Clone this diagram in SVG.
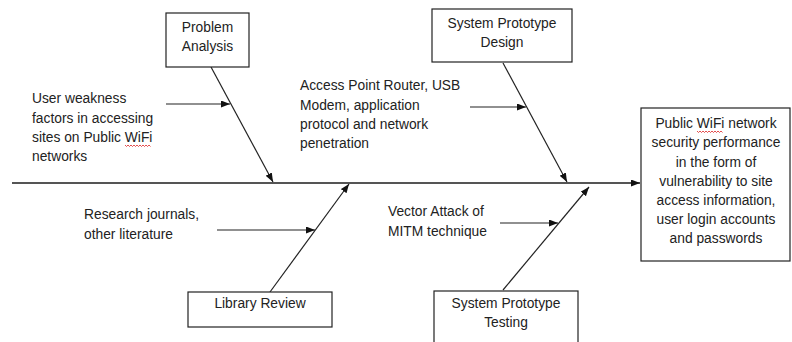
<svg xmlns="http://www.w3.org/2000/svg" width="792" height="342" viewBox="0 0 792 342">
<style>
.box{fill:#fff;stroke:#222;stroke-width:1.2}
.t{font-family:"Liberation Sans",Arial,sans-serif;font-size:13.8px;fill:#222}
.c{text-anchor:middle}
.ln{stroke:#222;stroke-width:1.2;fill:none}
.main{stroke:#555;stroke-width:1.8;fill:none}
.sq{stroke:#d22;stroke-width:0.8;fill:none}
</style>
<defs>
<marker id="ah" markerUnits="userSpaceOnUse" markerWidth="10" markerHeight="8" refX="9" refY="3.5" orient="auto">
<path d="M0,0 L9,3.5 L0,7 z" fill="#111"/>
</marker>
</defs>
<rect width="792" height="342" fill="#fff"/>
<g id="connectors">
<path class="main" d="M12,183 L640,183" marker-end="url(#ah)"/>
<path class="ln" d="M211,67 L273,182" marker-end="url(#ah)"/>
<path class="ln" d="M166,104 L230,104" marker-end="url(#ah)"/>
<path class="ln" d="M503,63 L567,182" marker-end="url(#ah)"/>
<path class="ln" d="M470,107 L526,107" marker-end="url(#ah)"/>
<path class="ln" d="M270,292 L349,184" marker-end="url(#ah)"/>
<path class="ln" d="M217,230 L315,230" marker-end="url(#ah)"/>
<path class="ln" d="M503,290 L589,187" marker-end="url(#ah)"/>
<path class="ln" d="M500,223 L558,223" marker-end="url(#ah)"/>
</g>
<g id="problem-analysis">
<rect class="box" x="166" y="13" width="83" height="54"/>
<text class="t c" x="207.5" y="32">Problem</text>
<text class="t c" x="207.5" y="51">Analysis</text>
</g>
<g id="system-prototype-design">
<rect class="box" x="432" y="9" width="140" height="53"/>
<text class="t c" x="502" y="27.5">System Prototype</text>
<text class="t c" x="502" y="47">Design</text>
</g>
<g id="library-review">
<rect class="box" x="188" y="292" width="144" height="35"/>
<text class="t c" x="260" y="308">Library Review</text>
</g>
<g id="system-prototype-testing">
<rect class="box" x="434" y="291" width="144" height="60"/>
<text class="t c" x="506" y="308">System Prototype</text>
<text class="t c" x="506" y="327">Testing</text>
</g>
<g id="result">
<rect class="box" x="641" y="108" width="149" height="153"/>
<text class="t c" x="716" y="128">Public WiFi network</text>
<text class="t c" x="716" y="147">security performance</text>
<text class="t c" x="716" y="167">in the form of</text>
<text class="t c" x="716" y="186">vulnerability to site</text>
<text class="t c" x="716" y="205">access information,</text>
<text class="t c" x="716" y="224">user login accounts</text>
<text class="t c" x="716" y="243">and passwords</text>
<path class="sq" d="M697,131 l1.5,1.5 l1.5,-1.5 l1.5,1.5 l1.5,-1.5 l1.5,1.5 l1.5,-1.5 l1.5,1.5 l1.5,-1.5 l1.5,1.5 l1.5,-1.5 l1.5,1.5 l1.5,-1.5 l1.5,1.5 l1.5,-1.5 l1.5,1.5 l1.5,-1.5 l1.5,1.5"/>
</g>
<g id="user-weakness">
<text class="t" x="32" y="103">User weakness</text>
<text class="t" x="32" y="123">factors in accessing</text>
<text class="t" x="32" y="142">sites on Public WiFi</text>
<text class="t" x="32" y="161">networks</text>
<path class="sq" d="M125,145 l1.5,1.5 l1.5,-1.5 l1.5,1.5 l1.5,-1.5 l1.5,1.5 l1.5,-1.5 l1.5,1.5 l1.5,-1.5 l1.5,1.5 l1.5,-1.5 l1.5,1.5 l1.5,-1.5 l1.5,1.5 l1.5,-1.5 l1.5,1.5 l1.5,-1.5 l1.5,1.5"/>
</g>
<g id="access-point">
<text class="t" x="300" y="90">Access Point Router, USB</text>
<text class="t" x="300" y="110">Modem, application</text>
<text class="t" x="300" y="129">protocol and network</text>
<text class="t" x="300" y="148">penetration</text>
</g>
<g id="research-journals">
<text class="t" x="84" y="219">Research journals,</text>
<text class="t" x="84" y="239">other literature</text>
</g>
<g id="vector-attack">
<text class="t" x="388" y="216">Vector Attack of</text>
<text class="t" x="388" y="236">MITM technique</text>
</g>
</svg>
